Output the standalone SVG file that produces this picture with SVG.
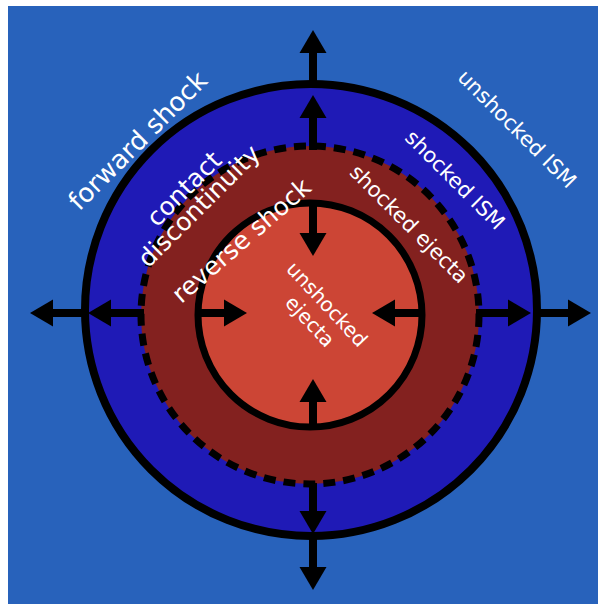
<svg xmlns="http://www.w3.org/2000/svg" width="604" height="610" viewBox="0 0 604 610">
<style>
text{font-family:"DejaVu Sans",Verdana,sans-serif;fill:#fff;text-anchor:middle}
.big{font-size:26px}
.big2{font-size:25px}
.mid{font-size:21px}
.sm{font-size:20px}
.arr{stroke:#000;stroke-width:8;fill:none;marker-end:url(#ah)}
</style>
<defs>
<marker id="ah" markerUnits="userSpaceOnUse" markerWidth="24" markerHeight="28" refX="0" refY="14" orient="auto" overflow="visible">
<path d="M0,0.5 L23,14 L0,27.5 z" fill="#000"/>
</marker>
</defs>
<rect width="604" height="610" fill="#fff"/>
<rect id="ism" x="8" y="6" width="590" height="598" fill="#2862bb"/>
<g id="forward-shock"><circle cx="311" cy="310" r="226" fill="#1f1ab6" stroke="#000" stroke-width="8"/></g>
<g id="contact-discontinuity"><circle cx="310" cy="315" r="169" fill="#83211f" stroke="#000" stroke-width="7" stroke-dasharray="12 8"/></g>
<g id="reverse-shock"><circle cx="310" cy="315" r="112" fill="#cc4535" stroke="#000" stroke-width="7"/></g>
<g id="connectors">
<line class="arr" x1="313" y1="86" x2="313" y2="53"/>
<line class="arr" x1="313" y1="150" x2="313" y2="118"/>
<line class="arr" x1="313" y1="200" x2="313" y2="233"/>
<line class="arr" x1="313" y1="430" x2="313" y2="402"/>
<line class="arr" x1="313" y1="483" x2="313" y2="511"/>
<line class="arr" x1="313" y1="533" x2="313" y2="567"/>
<line class="arr" x1="425" y1="313" x2="395" y2="313"/>
<line class="arr" x1="476" y1="313" x2="508" y2="313"/>
<line class="arr" x1="534" y1="313" x2="568" y2="313"/>
<line class="arr" x1="88" y1="313" x2="53" y2="313"/>
<line class="arr" x1="144" y1="313" x2="111" y2="313"/>
<line class="arr" x1="195" y1="313" x2="224" y2="313"/>
</g>
<g id="labels">
<text class="big" transform="translate(144,147) rotate(-45)">forward shock</text>
<text class="big2" transform="translate(190,195) rotate(-45)">contact</text>
<text class="big2" transform="translate(205,212) rotate(-45)">discontinuity</text>
<text class="big2" transform="translate(247,247) rotate(-41)">reverse shock</text>
<text class="mid" transform="translate(512,134) rotate(45)">unshocked ISM</text>
<text class="mid" transform="translate(450,185) rotate(45)">shocked ISM</text>
<text class="mid" transform="translate(404,229) rotate(45)">shocked ejecta</text>
<text class="sm" transform="translate(322,309) rotate(47)">unshocked</text>
<text class="sm" transform="translate(305,326) rotate(47)">ejecta</text>
</g>
</svg>
